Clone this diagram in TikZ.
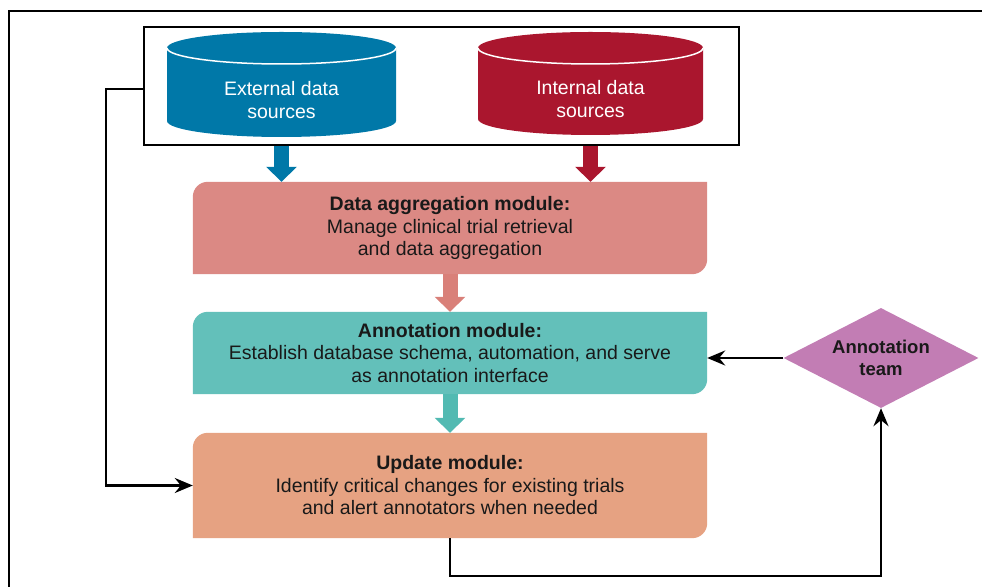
\documentclass[tikz,border=0pt]{standalone}
\usepackage{fontspec}
\setmainfont{Liberation Sans}
\usetikzlibrary{arrows.meta,shapes.geometric,backgrounds,calc}
\definecolor{extblue}{RGB}{0,120,168}
\definecolor{intred}{RGB}{170,22,46}
\definecolor{aggc}{RGB}{219,137,132}
\definecolor{aggarrow}{RGB}{217,128,121}
\definecolor{annc}{RGB}{99,192,186}
\definecolor{annarrow}{RGB}{82,186,178}
\definecolor{updc}{RGB}{230,162,130}
\definecolor{teamc}{RGB}{194,125,180}
\definecolor{txt}{RGB}{25,25,25}
\tikzset{
  conn/.style={line width=2.4pt, -{Stealth[length=18pt,width=15pt,inset=6pt]}},
  fat/.style={line width=15pt, -{Triangle[length=15pt,width=30pt]}},
  modtext/.style={rectangle, minimum width=514pt, inner sep=0pt, align=center,
    font=\fontsize{19.5}{22.5}\selectfont, text=txt},
  cyltext/.style={align=center, text=white, inner sep=0pt, font=\fontsize{19.5}{22.5}\selectfont},
  srcbox/.style={rectangle, draw, line width=1.5pt, minimum width=595pt, minimum height=118pt},
  teambox/.style={diamond, aspect=1.95, minimum width=195pt, minimum height=100pt, inner sep=0pt,
    fill=teamc, align=center, text=txt, font=\bfseries\fontsize{18.5}{22.5}\selectfont},
}
\newcommand\modfill[2]{\fill[#2] (#1.south west) -- ([yshift=-15pt]#1.north west)
  arc[start angle=180,end angle=90,radius=15pt] -- (#1.north east) -- ([yshift=15pt]#1.south east)
  arc[start angle=0,end angle=-90,radius=15pt] -- cycle;}
\newcommand\cyl[5]{%
  \fill[#5] (#1,#3-16) -- (#1,#4+16) arc[start angle=180,end angle=360,x radius={(#2-#1)/2},y radius=16]
    -- (#2,#3-16) arc[start angle=0,end angle=180,x radius={(#2-#1)/2},y radius=16] -- cycle;
  \draw[white,line width=1.5pt] (#1,#3-16) arc[start angle=180,end angle=360,x radius={(#2-#1)/2},y radius=16];}
\begin{document}
\begin{tikzpicture}[x=1pt,y=1pt]
\useasboundingbox (0,0) rectangle (982,586);
\clip (0,0) rectangle (982,586);
% outer frame
\draw[line width=1.3pt] (9,-5) -- (9,575) -- (990,575);
% sources
\node[srcbox] (src) at (441.5,500) {};
\cyl{167}{396}{554}{449}{extblue}
\cyl{478}{703}{554}{451}{intred}
\node[cyltext] (ext) at (281.5,486) {External data\\sources};
\node[cyltext] (int) at (590.5,487) {Internal data\\sources};
% modules
\node[modtext, minimum height=92pt] (agg) at (450,358)
  {\textbf{Data aggregation module:}\\Manage clinical trial retrieval\\and data aggregation};
\node[modtext, minimum height=82pt] (ann) at (450,233)
  {\textbf{Annotation module:}\\Establish database schema, automation, and serve\\as annotation interface};
\node[modtext, minimum height=105pt] (upd) at (450,100.5)
  {\textbf{Update module:}\\Identify critical changes for existing trials\\and alert annotators when needed};
\begin{pgfonlayer}{background}
  \modfill{agg}{aggc}
  \modfill{ann}{annc}
  \modfill{upd}{updc}
\end{pgfonlayer}
\node[teambox] (dia) at (881,228) {Annotation\\team};
% fat arrows
\draw[fat, extblue] (ext |- src.south) -- (ext |- agg.north);
\draw[fat, intred] (int |- src.south) -- (int |- agg.north);
\draw[fat, aggarrow] (agg.south) -- (ann.north);
\draw[fat, annarrow] (ann.south) -- (upd.north);
% connectors
\coordinate (lp) at (106,300);
\coordinate (fb) at (881,10);
\draw[conn] ([yshift=-3pt]src.west) -| (lp) |- (upd.west);
\draw[conn] (upd.south) |- (fb) -- (dia.south);
\draw[conn] (dia.west) -- (dia.west -| ann.east);
\end{tikzpicture}
\end{document}
